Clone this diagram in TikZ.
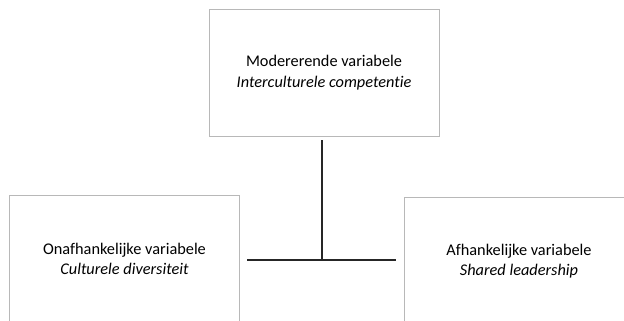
\documentclass[tikz,border=0pt]{standalone}
\usepackage{fontspec}
\setmainfont{Carlito}[Ligatures=NoCommon]
\begin{document}
\begin{tikzpicture}[x=1pt,y=-1pt,
  box/.style={draw=black!28, line width=0.9pt, minimum width=230pt, minimum height=127pt, inner sep=0pt,
    align=center, font=\fontsize{16.3}{20.5}\selectfont},
  link/.style={draw=black!85, line width=1.2pt}]
\useasboundingbox (0,0) rectangle (624,321);
\clip (0,0) rectangle (624,321);
\node[box] (top) at (324,72.5) {Modererende variabele\\\textit{Interculturele competentie}};
\node[box] (left) at (124.5,259) {Onafhankelijke variabele\\\textit{Culturele diversiteit}};
\node[box] (right) at (519,261) {Afhankelijke variabele\\\textit{Shared leadership}};
\coordinate (j) at (322,260);
\coordinate (hl) at (247,260);
\coordinate (hr) at (396,260);
\draw[link] ([yshift=-4pt]top.south -| j) -- (j);
\draw[link] (hl) -- (hr);
\end{tikzpicture}
\end{document}
